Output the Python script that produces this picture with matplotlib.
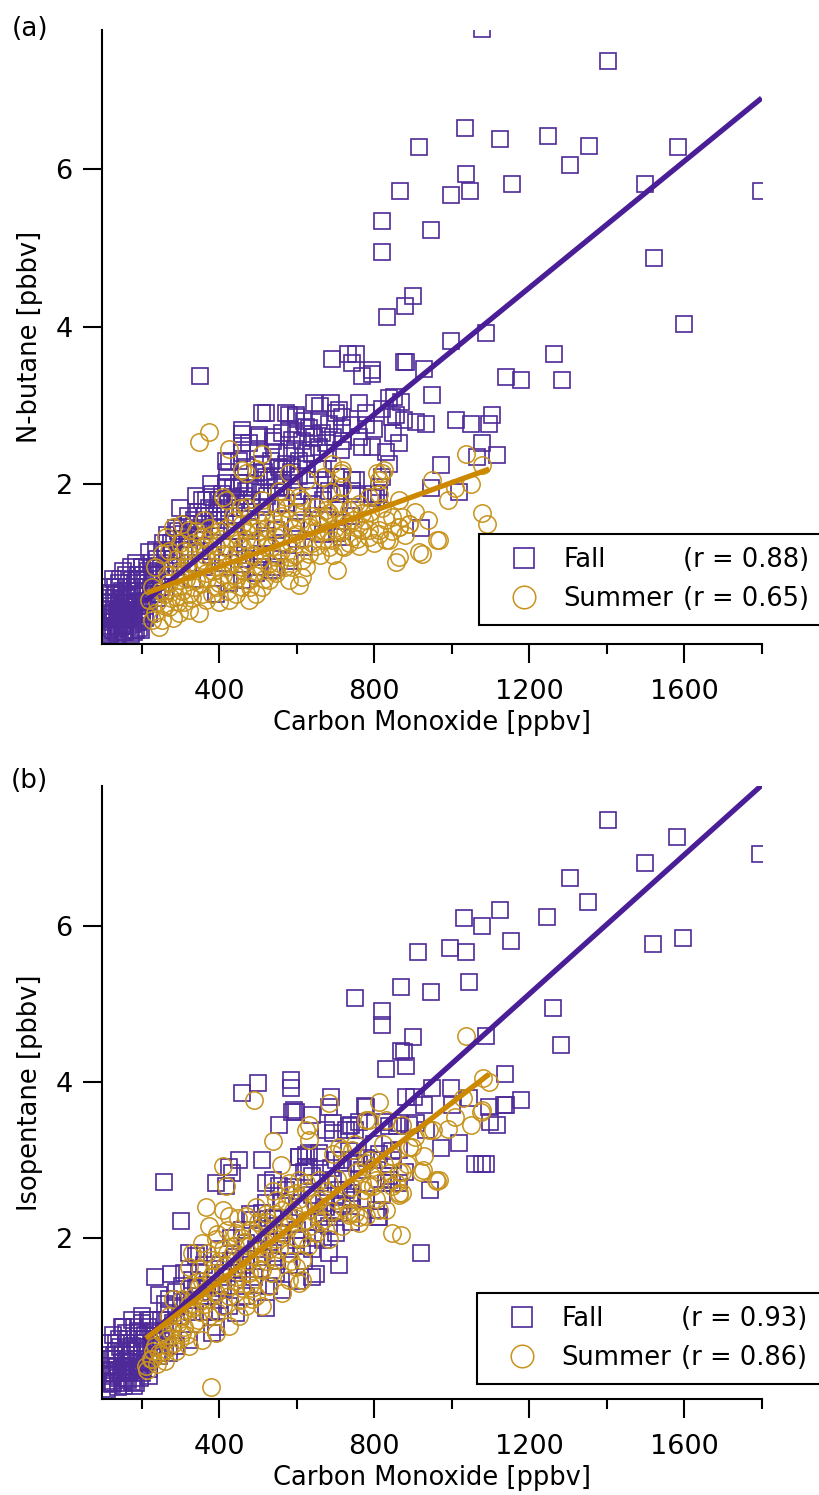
import matplotlib.pyplot as plt
import numpy as np

plt.rcParams['font.family'] = 'DejaVu Sans'

purple = '#4E2A98'
purple_line = '#4A1E96'
gold = '#C8931C'
gold_line = '#CC8800'

# ---- panel (a): N-butane vs CO, (CO ppbv, N-butane ppbv) ----
fall_a = [
    (1079, 7.78), (1404, 7.38), (1035, 6.52), (916, 6.28), (1125, 6.39), (1249, 6.43), (1355, 6.30),
    (1306, 6.06), (1585, 6.29), (1037, 5.94), (999, 5.67), (1048, 5.72), (1156, 5.81), (867, 5.72),
    (1499, 5.82), (1799, 5.72), (947, 5.23), (1523, 4.87), (1600, 4.04), (821, 5.34), (821, 4.95),
    (901, 4.39), (880, 4.26), (834, 4.12), (999, 3.82), (1089, 3.92), (883, 3.55), (929, 3.47),
    (1265, 3.65), (1141, 3.36), (1179, 3.32), (1285, 3.32), (692, 3.59), (733, 3.66), (754, 3.66),
    (743, 3.54), (795, 3.45), (877, 3.55), (351, 3.38), (770, 3.38), (795, 3.40), (950, 3.13),
    (852, 3.11), (857, 2.88), (710, 2.94),
    (511, 2.91), (645, 3.03), (689, 3.03), (761, 3.03), (839, 3.09), (581, 2.88), (598, 2.86),
    (702, 2.90), (717, 2.86), (846, 2.86), (877, 2.81), (907, 2.79), (934, 2.77), (1011, 2.81),
    (1050, 2.77), (1097, 2.77), (1105, 2.88), (460, 2.69), (503, 2.62), (563, 2.65), (598, 2.62),
    (632, 2.72), (684, 2.77), (718, 2.71), (779, 2.75), (460, 2.52), (547, 2.41), (658, 2.47),
    (714, 2.43), (769, 2.47), (795, 2.47), (865, 2.52), (830, 2.41), (1079, 2.52), (1118, 2.37),
    (1066, 2.34), (972, 2.24), (426, 2.28), (469, 2.22), (512, 2.26), (563, 2.20), (589, 2.22),
    (624, 2.26), (667, 2.20), (718, 2.09), (753, 2.05), (821, 2.09), (839, 2.26), (418, 2.01),
    (452, 1.96), (529, 2.05), (547, 1.96), (589, 1.96), (632, 1.92), (702, 1.88), (744, 1.92),
    (813, 1.88), (1019, 1.90), (947, 1.95), (921, 1.45), (356, 1.80), (382, 1.84), (408, 1.88),
    (469, 1.76), (512, 1.71), (572, 1.76), (615, 1.71), (667, 1.80), (710, 1.71), (795, 1.84),
    (305, 1.46), (322, 1.50), (348, 1.42), (391, 1.46), (443, 1.50), (477, 1.46), (547, 1.42),
    (598, 1.46), (667, 1.37), (718, 1.33), (705, 1.38), (237, 1.16), (263, 1.14), (279, 1.16),
    (322, 1.20), (426, 1.20), (512, 1.12), (547, 0.95), (581, 1.03), (201, 0.95), (227, 0.87),
    (175, 0.78), (150, 0.65), (168, 0.57), (211, 0.69), (391, 0.61), (426, 0.74), (460, 0.78),
    (495, 0.87), (537, 0.91), (142, 0.18), (193, 0.17), (124, 0.36),
    (219, 1.14), (254, 1.14), (236, 0.95), (194, 0.78), (176, 0.70), (142, 0.53), (159, 0.36),
    (288, 1.44), (323, 1.50), (305, 1.37), (340, 1.33), (366, 1.80), (383, 1.88), (417, 1.97),
    (400, 1.80), (452, 2.01), (434, 1.84), (469, 1.92), (495, 2.14), (520, 2.09), (555, 2.22),
    (572, 2.26), (606, 2.30), (452, 2.30), (417, 2.30), (460, 2.64), (503, 2.60), (520, 2.90),
    (572, 2.90), (598, 2.88), (624, 2.73), (641, 2.64), (589, 2.56), (538, 2.60), (477, 2.52),
    (658, 2.81), (675, 2.52), (641, 2.39),
    (675, 2.05), (701, 2.09), (744, 2.05), (753, 1.88), (796, 1.88), (813, 1.97), (684, 1.92),
    (710, 1.88), (804, 1.82),
    (330, 0.80), (360, 0.95), (410, 1.00), (450, 1.10), (480, 1.20), (520, 1.30), (560, 1.25),
    (600, 1.30), (640, 1.50), (680, 1.55), (740, 1.60), (620, 1.20), (500, 0.95), (470, 1.05),
    (380, 1.10), (350, 1.15),
    (240, 1.05), (255, 1.25), (265, 1.35), (275, 1.25), (285, 1.30), (295, 1.40), (310, 1.30),
    (320, 1.60), (335, 1.55), (345, 1.65), (355, 1.50), (365, 1.60), (375, 1.70), (385, 1.55),
    (395, 1.65), (405, 1.75), (415, 1.60), (425, 1.70), (435, 1.95), (445, 1.80), (455, 1.70),
    (465, 1.85), (475, 1.95), (485, 1.80), (495, 2.00), (505, 1.90), (515, 2.15), (525, 1.85),
    (535, 2.30), (545, 2.10), (555, 1.90), (565, 2.05), (575, 2.40), (585, 2.15), (595, 2.45),
    (605, 2.10), (615, 2.55), (625, 2.40), (635, 2.05), (645, 2.60), (655, 2.20), (665, 2.65),
    (680, 2.40), (695, 2.60), (720, 2.55), (740, 2.75), (760, 2.60), (780, 2.90), (800, 2.70),
    (820, 2.95), (850, 2.65), (870, 3.05), (300, 1.70), (320, 1.35), (340, 1.85), (360, 1.40),
    (380, 2.00), (400, 1.55), (420, 2.15), (440, 1.40), (460, 2.40), (480, 1.65), (500, 2.45),
    (520, 1.55), (540, 2.55), (560, 1.75), (580, 2.70), (600, 1.85), (620, 2.80), (640, 1.75),
    (660, 3.00),
    (115, 0.15), (125, 0.25), (135, 0.12), (140, 0.30), (150, 0.20), (160, 0.28), (170, 0.15),
    (180, 0.35), (190, 0.25), (200, 0.40), (210, 0.30), (120, 0.45), (130, 0.55), (145, 0.42),
    (155, 0.50), (165, 0.40), (175, 0.48), (185, 0.58), (195, 0.52), (205, 0.62), (215, 0.50),
    (225, 0.60), (230, 0.75), (240, 0.85), (250, 0.95), (260, 0.90), (270, 1.00), (280, 1.05),
    (290, 0.95), (300, 1.10), (110, 0.20), (118, 0.10), (128, 0.38), (148, 0.62), (162, 0.70),
    (188, 0.80), (205, 0.85), (112, 0.30), (138, 0.22), (158, 0.12), (178, 0.22), (198, 0.15),
    (122, 0.62), (132, 0.70), (145, 0.80), (160, 0.85), (172, 0.95), (185, 1.00), (115, 0.50),
    (108, 0.40),
    (112, 0.55), (118, 0.70), (126, 0.80), (134, 0.60), (142, 0.75), (152, 0.90), (160, 0.55),
    (168, 0.45), (176, 0.60), (184, 0.70), (192, 0.85), (200, 0.95), (208, 0.78), (216, 0.90),
    (224, 1.00), (232, 0.85), (110, 0.08), (120, 0.18), (130, 0.28), (140, 0.10), (150, 0.32),
    (160, 0.44), (170, 0.30), (180, 0.12), (190, 0.40), (200, 0.28), (210, 0.45), (220, 0.35),
    (230, 0.60), (240, 0.55), (250, 0.70), (260, 0.65), (126, 0.15), (136, 0.38), (146, 0.28),
    (156, 0.38), (166, 0.20), (176, 0.32), (186, 0.15), (196, 0.35), (113, 0.12), (123, 0.32),
    (133, 0.20), (143, 0.48), (153, 0.12), (163, 0.58), (173, 0.10), (183, 0.50), (193, 0.65),
    (203, 0.50),
]

summer_a = [
    (830, 1.54), (873, 1.59), (864, 1.46), (890, 1.50), (839, 1.29), (813, 1.37), (787, 1.33),
    (770, 1.42), (761, 1.21), (735, 1.25), (718, 1.21), (692, 1.29), (667, 1.29), (649, 1.21),
    (632, 1.12), (615, 1.04), (589, 0.95), (581, 1.08), (546, 0.87), (529, 0.78), (512, 0.70),
    (495, 0.61), (477, 0.78), (460, 0.70), (443, 0.61), (426, 0.78), (417, 0.95), (409, 1.12),
    (391, 1.21), (374, 1.29), (357, 1.33), (323, 1.42), (305, 1.50), (280, 1.46), (262, 1.33),
    (254, 1.12), (236, 0.95), (228, 0.70), (219, 0.53), (236, 0.36), (254, 0.27), (271, 0.44),
    (288, 0.57), (323, 0.61), (348, 0.36), (366, 0.53),
    (409, 1.84), (417, 1.80), (469, 1.71), (546, 1.71), (512, 1.80), (572, 1.84), (615, 1.80),
    (649, 1.71), (684, 1.63), (735, 1.67), (770, 1.63), (632, 1.46), (598, 1.37), (546, 1.33),
    (495, 1.29), (460, 1.21), (443, 1.12), (477, 1.04), (512, 0.95), (546, 1.08), (581, 0.78),
    (615, 0.82), (460, 0.95), (391, 0.95), (366, 0.87), (340, 0.78), (314, 0.95), (297, 0.78),
    (280, 0.95), (323, 1.12), (357, 1.04), (391, 0.70), (426, 0.53), (297, 0.36), (323, 0.40),
    (228, 0.27), (245, 0.19), (383, 0.61), (477, 0.53),
    (426, 2.45), (495, 2.20), (374, 2.66), (348, 2.54), (460, 2.18), (512, 2.39), (581, 2.14),
    (624, 2.05), (667, 2.09), (718, 2.18), (606, 1.84), (555, 1.92), (821, 2.14), (813, 2.05),
    (718, 1.97), (469, 2.14),
    (1037, 2.39), (1079, 2.24), (950, 2.05), (1079, 1.63), (1092, 1.50), (968, 1.29), (924, 1.12),
    (865, 1.07), (857, 1.01), (705, 0.91), (890, 1.50), (865, 1.46), (847, 1.58), (830, 1.29),
    (813, 1.42), (787, 1.42), (761, 1.46), (744, 1.33), (723, 1.20), (684, 1.20), (865, 1.80),
    (808, 2.14), (826, 2.18), (813, 1.88), (787, 1.84), (714, 2.14), (692, 2.26), (710, 1.76),
    (744, 1.71), (676, 1.67), (658, 1.58), (606, 0.72), (916, 1.14), (963, 1.29),
    (300, 0.90), (320, 1.00), (340, 1.15), (360, 1.20), (380, 1.35), (400, 1.40), (420, 1.45),
    (440, 1.55), (460, 1.50), (480, 1.60), (500, 1.55), (520, 1.45), (540, 1.55), (560, 1.60),
    (580, 1.55), (600, 1.65), (430, 1.30), (450, 1.35), (470, 1.40), (490, 1.10), (520, 1.20),
    (410, 0.85), (350, 0.75), (330, 0.55), (260, 0.60), (270, 0.75), (280, 0.30), (310, 0.50),
    (400, 0.50), (440, 0.85), (530, 1.00), (560, 1.15), (650, 1.40), (700, 1.45), (720, 1.55),
    (760, 1.75), (690, 1.90), (640, 1.60), (360, 1.55), (330, 1.25), (300, 1.25), (270, 1.15),
    (240, 0.50), (250, 0.65), (260, 0.45), (265, 0.85), (275, 0.55), (285, 0.70), (290, 1.05),
    (295, 0.50), (305, 0.65), (310, 1.15), (315, 0.80), (325, 0.90), (335, 0.70), (340, 1.40),
    (345, 0.95), (355, 0.60), (365, 1.10), (370, 0.80), (375, 1.45), (385, 0.90), (395, 1.05),
    (400, 0.75), (405, 1.30), (415, 1.20), (420, 0.65), (430, 1.00), (435, 1.60), (445, 0.80),
    (450, 1.25), (455, 1.70), (465, 0.90), (470, 1.30), (480, 0.70), (485, 1.45), (490, 0.85),
    (500, 1.40), (505, 1.05), (510, 1.65), (515, 0.80), (525, 1.30), (535, 1.20), (540, 0.90),
    (550, 1.45), (555, 1.00), (565, 1.35), (570, 0.95), (575, 1.70), (585, 1.25), (590, 1.45),
    (595, 1.10), (610, 1.55), (620, 1.30), (625, 0.95), (640, 1.25), (655, 1.50), (660, 1.10),
    (670, 1.60), (680, 1.40), (695, 1.10), (700, 1.70), (715, 1.40), (730, 1.50), (745, 1.55),
    (755, 1.30), (775, 1.55), (790, 1.65), (800, 1.25), (820, 1.70), (845, 1.40), (880, 1.35),
    (905, 1.65), (940, 1.55), (990, 1.80), (1010, 1.95), (1050, 2.00),
]

# ---- panel (b): isopentane vs CO ----
fall_b = [
    (1404, 7.37), (1582, 7.14), (1796, 6.93), (1499, 6.81), (1306, 6.62), (1353, 6.31), (1032, 6.10),
    (1079, 6.00), (1125, 6.21), (1247, 6.12), (1153, 5.81), (1520, 5.77), (1597, 5.85), (914, 5.67),
    (996, 5.72), (1037, 5.67), (1045, 5.28), (947, 5.15), (869, 5.22), (1262, 4.95), (1283, 4.47),
    (1089, 4.59), (901, 4.58), (877, 4.38), (883, 4.21), (1138, 4.10), (950, 3.92), (999, 3.92),
    (1179, 3.77), (1136, 3.71), (1045, 3.79), (1097, 3.68), (903, 3.81), (929, 3.71), (1001, 3.71),
    (751, 5.08), (820, 4.91), (820, 4.73), (830, 4.17), (869, 4.40), (459, 3.86), (501, 3.99),
    (585, 4.02), (585, 3.92), (688, 3.81), (593, 3.64), (640, 3.58), (778, 3.68),
    (1099, 3.49), (1118, 3.45), (882, 3.81), (776, 3.69), (909, 3.47), (935, 3.38), (972, 3.15),
    (1019, 3.22), (1061, 2.95), (1078, 2.95), (1090, 2.95), (944, 2.61), (693, 3.47), (693, 3.34),
    (727, 3.38), (740, 3.45), (761, 3.49), (839, 3.43), (860, 3.43), (826, 3.49), (890, 3.45),
    (847, 3.11), (864, 3.13), (813, 3.08), (658, 3.04), (624, 3.06), (735, 3.11), (701, 3.00),
    (753, 2.96), (779, 3.02), (839, 2.74), (847, 2.70), (740, 2.57), (744, 2.49), (804, 2.36),
    (809, 2.27), (693, 2.74), (710, 2.61), (641, 2.79), (624, 2.91), (607, 3.04), (658, 2.27),
    (710, 2.32), (675, 2.40), (920, 1.80), (864, 3.47), (1140, 3.71),
    (258, 2.72), (301, 2.21), (710, 1.65), (649, 1.53), (684, 1.80), (236, 1.50), (275, 1.53),
    (245, 1.27), (271, 1.21), (323, 1.80), (340, 1.76), (426, 2.91), (417, 2.66), (452, 3.00),
    (391, 2.70), (512, 3.00), (538, 2.74), (520, 2.70), (555, 2.66), (589, 3.62), (555, 3.45),
    (735, 3.43), (752, 3.38), (606, 3.04), (658, 3.09), (632, 2.91), (718, 3.00), (770, 2.87),
    (795, 3.00), (839, 2.79), (864, 2.70), (830, 2.70), (727, 2.62), (744, 2.53), (718, 2.44),
    (813, 2.27), (667, 2.32), (684, 2.15), (701, 2.06), (667, 1.97), (598, 1.97), (615, 1.89),
    (512, 2.32), (486, 2.23), (529, 2.15), (563, 2.06), (469, 1.93), (495, 1.85), (546, 1.55),
    (563, 1.33), (529, 1.38), (443, 1.38), (426, 1.12), (443, 1.03), (391, 0.86), (383, 0.78),
    (348, 1.80), (348, 1.55), (150, 0.86), (176, 0.95), (202, 0.99), (219, 0.95), (193, 0.78),
    (228, 0.78), (159, 0.78), (133, 0.65), (150, 0.52), (176, 0.61), (202, 0.52), (228, 0.61),
    (245, 0.48), (271, 0.52), (125, 0.22), (150, 0.14), (133, 0.35), (168, 0.27), (193, 0.35),
    (219, 0.22), (176, 0.44), (125, 0.44), (116, 0.14), (288, 0.61), (323, 0.69), (305, 1.38),
    (331, 1.46), (288, 1.12), (271, 1.03), (641, 1.50), (675, 3.38), (598, 3.62), (684, 3.68),
    (434, 2.83), (572, 2.62), (632, 3.09),
    (380, 1.30), (410, 1.55), (460, 1.60), (500, 1.40), (540, 1.80), (580, 1.65), (620, 1.70),
    (470, 1.25), (520, 1.10), (600, 1.45), (640, 1.85), (400, 1.20), (360, 1.05), (430, 1.70),
    (250, 0.95), (260, 1.15), (280, 0.90), (290, 1.30), (300, 1.00), (310, 1.55), (320, 1.20),
    (330, 1.05), (340, 1.35), (350, 1.25), (360, 1.65), (370, 1.40), (380, 1.05), (390, 1.60),
    (400, 1.85), (410, 1.35), (420, 1.50), (430, 2.00), (440, 1.75), (450, 1.55), (460, 2.10),
    (470, 1.65), (480, 2.30), (490, 1.50), (500, 2.05), (510, 1.75), (520, 2.45), (530, 1.95),
    (540, 2.25), (550, 1.70), (560, 2.45), (570, 1.90), (580, 2.25), (590, 2.65), (600, 2.10),
    (610, 2.40), (620, 2.85), (630, 2.20), (640, 2.55), (650, 2.00), (660, 2.70), (670, 2.45),
    (690, 2.90), (700, 2.35), (720, 2.75), (740, 2.20), (760, 2.95), (780, 2.50), (800, 3.20),
    (820, 2.55), (850, 3.00), (880, 2.85),
    (140, 0.30), (160, 0.20), (180, 0.30), (200, 0.40), (150, 0.40), (130, 0.50), (170, 0.55),
    (190, 0.60), (210, 0.70), (120, 0.30), (140, 0.20), (160, 0.35), (185, 0.45), (205, 0.30),
    (220, 0.40), (115, 0.25), (125, 0.12), (135, 0.45), (145, 0.60), (165, 0.70), (180, 0.85),
    (200, 0.65), (240, 0.70), (260, 0.80), (110, 0.35), (155, 0.10), (175, 0.15), (195, 0.20),
    (210, 0.55), (230, 0.50),
    (112, 0.50), (118, 0.65), (126, 0.75), (134, 0.55), (142, 0.70), (152, 0.85), (160, 0.50),
    (168, 0.40), (176, 0.55), (184, 0.65), (192, 0.80), (200, 0.90), (208, 0.75), (216, 0.85),
    (224, 0.95), (232, 0.80), (110, 0.06), (120, 0.16), (130, 0.26), (140, 0.08), (150, 0.30),
    (160, 0.42), (170, 0.28), (180, 0.10), (190, 0.38), (200, 0.26), (210, 0.42), (220, 0.32),
    (230, 0.58), (240, 0.52), (250, 0.68), (260, 0.62), (126, 0.13), (136, 0.36), (146, 0.26),
    (156, 0.36), (166, 0.18), (176, 0.30), (186, 0.13), (196, 0.33),
]

summer_b = [
    (469, 2.28), (495, 2.40), (512, 2.15), (546, 2.49), (581, 2.70), (598, 2.57), (563, 2.36),
    (615, 2.40), (581, 2.15), (546, 1.98), (512, 1.93), (477, 1.89), (460, 1.76), (443, 1.63),
    (477, 1.55), (512, 1.59), (546, 1.72), (581, 1.80), (598, 1.63), (615, 1.46), (581, 1.46),
    (529, 1.38), (495, 1.25), (469, 1.12), (452, 0.99), (426, 0.87), (391, 0.78), (357, 0.69),
    (323, 0.61), (305, 0.78), (297, 0.99), (305, 1.21), (323, 1.38), (280, 1.21), (271, 0.99),
    (254, 0.78), (236, 0.61), (228, 0.44), (245, 0.52), (211, 0.35), (374, 0.99), (409, 1.12),
    (426, 1.38), (409, 1.55), (391, 1.29), (357, 1.21), (348, 1.38), (383, 1.72), (409, 1.85),
    (615, 1.72), (649, 2.06), (667, 2.23), (684, 1.98), (718, 2.15), (752, 2.32), (770, 2.49),
    (787, 2.66), (804, 2.74), (839, 2.83), (856, 2.70), (864, 2.57), (890, 3.17), (925, 2.87),
    (959, 2.74), (942, 3.39), (873, 3.45), (830, 3.51), (787, 3.51), (752, 3.21), (718, 3.13),
    (684, 2.70), (658, 2.49), (624, 2.23), (847, 2.06), (778, 2.28), (735, 2.32), (701, 2.49),
    (761, 2.19), (813, 2.36), (606, 1.42), (563, 1.29), (512, 1.12), (486, 1.21),
    (378, 0.09), (538, 3.24), (632, 3.26), (624, 3.39), (684, 3.73), (632, 3.45), (409, 2.92),
    (417, 2.66), (559, 2.94), (366, 2.40), (409, 2.36), (374, 2.15), (426, 2.28), (443, 2.06),
    (391, 1.98), (357, 1.93), (331, 1.80), (323, 1.63),
    (1037, 4.59), (1081, 4.05), (1097, 4.00), (813, 3.75), (779, 3.51), (951, 3.38), (1078, 3.64),
    (899, 3.17), (920, 2.84), (963, 2.73), (864, 2.84), (864, 2.55), (847, 2.66), (796, 2.66),
    (774, 2.62), (830, 2.36), (761, 2.27), (735, 2.29), (693, 3.08), (710, 3.17), (744, 3.13),
    (822, 3.21), (779, 2.96), (796, 2.91), (658, 2.74), (624, 2.70), (607, 2.74),
    (1075, 3.62), (968, 2.74), (873, 2.85), (873, 2.57), (869, 2.04), (490, 3.77),
    (215, 0.30), (225, 0.45), (240, 0.38), (250, 0.50), (260, 0.42), (230, 0.55), (270, 0.60),
    (290, 0.55), (300, 0.70), (310, 0.85), (335, 0.90), (350, 1.05), (280, 0.90), (260, 0.75),
    (330, 1.10), (360, 1.30), (380, 1.50), (400, 1.70), (420, 1.80), (440, 1.90), (460, 2.00),
    (480, 2.10), (500, 2.20), (520, 2.30), (440, 1.45), (460, 1.35), (500, 1.75), (530, 1.85),
    (550, 2.10), (570, 2.20), (590, 2.35), (520, 1.70), (480, 1.40), (350, 1.60), (370, 1.80),
    (395, 2.05), (420, 2.10), (450, 2.25), (600, 2.00), (630, 1.90), (650, 2.30), (580, 2.55),
    (540, 2.60),
    (255, 0.55), (265, 0.70), (275, 0.80), (285, 0.65), (295, 0.90), (305, 1.00), (315, 0.75),
    (325, 1.15), (335, 1.25), (345, 0.95), (355, 1.45), (365, 1.15), (375, 1.35), (385, 1.55),
    (395, 1.05), (405, 1.40), (415, 1.65), (425, 1.25), (435, 1.80), (445, 1.50), (455, 1.20),
    (465, 1.95), (475, 1.70), (485, 1.35), (495, 2.05), (505, 1.60), (515, 1.80), (525, 2.20),
    (535, 1.55), (545, 2.30), (555, 1.85), (565, 2.05), (575, 2.45), (585, 1.70), (595, 2.25),
    (605, 2.50), (615, 2.00), (625, 2.60), (635, 2.15), (645, 2.45), (660, 2.20), (675, 2.60),
    (690, 2.35), (705, 2.75), (720, 2.40), (740, 2.65), (755, 2.85), (770, 2.70), (790, 3.00),
    (805, 2.50), (825, 2.95), (845, 3.05), (885, 2.95), (905, 3.30), (930, 3.05), (990, 3.40),
    (1010, 3.55), (1030, 3.80), (1050, 3.45),
]

# linear fits: (slope, intercept, co_min, co_max)
fit_fall_a = (0.00402, -0.33, 210, 1800)
fit_summer_a = (0.00178, 0.24, 215, 1097)
fit_fall_b = (0.00447, -0.236, 206, 1800)
fit_summer_b = (0.00383, -0.10, 211, 1097)

r_a = ('0.88', '0.65')
r_b = ('0.93', '0.86')


def draw_panel(ax, fall, summer, fit_f, fit_s, ylabel, r_vals, ylim, anchor):
    fx, fy = np.array(fall).T
    sx, sy = np.array(summer).T
    h_f, = ax.plot(fx, fy, ls='none', marker='s', ms=11, mfc='none',
                   mec=purple, mew=1.2, zorder=2)
    h_s, = ax.plot(sx, sy, ls='none', marker='o', ms=12.5, mfc='none',
                   mec=gold, mew=1.1, zorder=3)
    for (k, b, x0, x1), c, z in [(fit_f, purple_line, 4), (fit_s, gold_line, 5)]:
        xx = np.array([x0, x1])
        ax.plot(xx, k * xx + b, color=c, lw=3.8, solid_capstyle='butt', zorder=z)

    ax.set_xlim(98, 1801)
    ax.set_ylim(*ylim)
    ax.set_xticks([400, 800, 1200, 1600])
    ax.set_xticks([200, 600, 1000, 1400, 1800], minor=True)
    ax.set_yticks([2, 4, 6])
    ax.spines['top'].set_visible(False)
    ax.spines['right'].set_visible(False)
    ax.spines['left'].set_linewidth(1.5)
    ax.spines['bottom'].set_linewidth(1.5)
    ax.tick_params(axis='both', which='major', direction='out', length=14, width=1.5,
                   labelsize=19.5)
    ax.tick_params(axis='x', which='major', pad=11)
    ax.tick_params(axis='y', which='major', pad=7)
    ax.tick_params(axis='x', which='minor', direction='out', length=7, width=1.5)

    ax.set_xlabel('Carbon Monoxide [ppbv]', fontsize=18.5)
    ax.set_ylabel(ylabel, fontsize=18.5)
    ax.xaxis.set_label_coords(0.5, -0.108)
    ax.yaxis.set_label_coords(-0.089, 0.5)

    blank = plt.Line2D([], [], ls='none')
    leg = ax.legend([h_f, h_s, blank, blank],
                    ['Fall', 'Summer', f'(r = {r_vals[0]}) ', f'(r = {r_vals[1]}) '],
                    ncol=2, loc='upper left', bbox_to_anchor=anchor, borderaxespad=0,
                    fontsize=18.5, handlelength=2.5, handletextpad=0.3, columnspacing=-2.45,
                    labelspacing=0.5, borderpad=0.5, markerscale=1.3, numpoints=1,
                    fancybox=False, framealpha=1, edgecolor='black')
    leg.get_frame().set_linewidth(1.5)
    leg.set_zorder(10)


fig = plt.figure(figsize=(8.2, 14.95), dpi=100)
ax_a = fig.add_axes([0.1244, 0.5692, 0.8049, 0.4107])
ax_b = fig.add_axes([0.1244, 0.0642, 0.8049, 0.4100])

draw_panel(ax_a, fall_a, summer_a, fit_fall_a, fit_summer_a, 'N-butane [pbbv]', r_a,
           (-0.03, 7.77), (0.571, 0.179))
draw_panel(ax_b, fall_b, summer_b, fit_fall_b, fit_summer_b, 'Isopentane [pbbv]', r_b,
           (-0.07, 7.80), (0.568, 0.173))

fig.text(12 / 820, 1 - 16 / 1495, '(a)', fontsize=19, va='top', ha='left')
fig.text(11 / 820, 1 - 768 / 1495, '(b)', fontsize=19, va='top', ha='left')

fig.savefig('out.png', dpi=100)
